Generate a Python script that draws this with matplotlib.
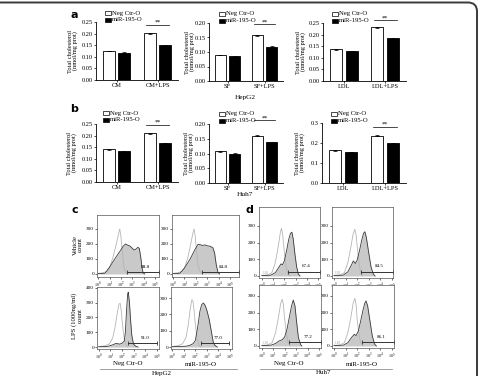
import numpy as np
import matplotlib
matplotlib.use("Agg")
import matplotlib.pyplot as plt
from matplotlib.patches import FancyBboxPatch, Rectangle

W, H = 479, 376
plt.rcParams["font.family"] = ["Liberation Serif", "DejaVu Serif"]
plt.rcParams["mathtext.fontset"] = "stix"

# ---- bar data (total cholesterol, nmol/mg prot) ----
hepg2_cats = [["CM", "CM+LPS"], ["SF", "SF+LPS"], ["LDL", "LDL+LPS"]]
hepg2_neg = [[0.125, 0.202], [0.090, 0.158], [0.136, 0.232]]
hepg2_mir = [[0.117, 0.150], [0.085, 0.118], [0.130, 0.184]]
hepg2_neg_err = [[0.002, 0.002], [0.001, 0.002], [0.001, 0.002]]
hepg2_mir_err = [[0.002, 0.002], [0.001, 0.002], [0.001, 0.002]]

huh7_cats = [["CM", "CM+LPS"], ["SF", "SF+LPS"], ["LDL", "LDL+LPS"]]
huh7_neg = [[0.142, 0.211], [0.107, 0.161], [0.163, 0.236]]
huh7_mir = [[0.132, 0.168], [0.099, 0.138], [0.155, 0.199]]
huh7_neg_err = [[0.002, 0.002], [0.002, 0.002], [0.002, 0.002]]
huh7_mir_err = [[0.002, 0.002], [0.002, 0.002], [0.002, 0.002]]

# ---- flow histograms (x = log10 fluorescence, y = count) ----
# c: HepG2
cv_neg_open_x = [0.0, 0.4, 0.8, 1.0, 1.3, 1.6, 1.8, 1.9, 2.0, 2.1, 2.2, 2.3, 2.45, 2.6]
cv_neg_open_y = [4, 8, 18, 40, 110, 200, 270, 300, 250, 170, 90, 35, 8, 0]
cv_neg_fill_x = [0.0, 0.6, 1.0, 1.5, 2.0, 2.2, 2.4, 2.6, 2.8, 3.0, 3.15, 3.3, 3.5, 3.62, 3.75, 3.85, 3.95, 4.1]
cv_neg_fill_y = [2, 5, 45, 105, 160, 185, 200, 192, 186, 172, 160, 165, 178, 170, 110, 45, 8, 0]
cv_mir_open_x = [0.0, 0.4, 0.8, 1.0, 1.3, 1.55, 1.75, 1.85, 1.95, 2.05, 2.15, 2.3, 2.45, 2.6]
cv_mir_open_y = [4, 8, 18, 40, 110, 200, 275, 300, 250, 160, 80, 30, 8, 0]
cv_mir_fill_x = [0.0, 0.6, 1.0, 1.5, 1.9, 2.2, 2.4, 2.6, 2.8, 3.0, 3.25, 3.5, 3.65, 3.8, 3.95, 4.1]
cv_mir_fill_y = [2, 5, 40, 100, 160, 198, 195, 190, 194, 188, 185, 175, 140, 60, 10, 0]

cl_neg_open_x = [0.0, 0.5, 0.9, 1.2, 1.4, 1.6, 1.75, 1.85, 1.95, 2.05, 2.2, 2.35, 2.5]
cl_neg_open_y = [3, 8, 20, 60, 130, 230, 290, 295, 240, 150, 60, 15, 0]
cl_neg_fill_x = [0.0, 0.8, 1.2, 1.5, 1.8, 2.0, 2.2, 2.3, 2.4, 2.5, 2.55, 2.65, 2.75, 2.85, 3.0, 3.2, 3.4]
cl_neg_fill_y = [2, 5, 15, 25, 20, 25, 40, 100, 250, 360, 370, 300, 180, 80, 20, 5, 0]
cl_mir_open_x = [0.0, 0.5, 0.9, 1.2, 1.4, 1.55, 1.7, 1.8, 1.9, 2.0, 2.15, 2.3, 2.45]
cl_mir_open_y = [3, 8, 20, 60, 140, 230, 290, 280, 220, 140, 55, 12, 0]
cl_mir_fill_x = [0.0, 1.2, 1.5, 1.8, 2.0, 2.2, 2.4, 2.55, 2.7, 2.85, 3.0, 3.2, 3.4, 3.55, 3.7, 3.9]
cl_mir_fill_y = [2, 5, 10, 20, 40, 120, 220, 260, 270, 255, 225, 170, 90, 30, 10, 0]

# d: Huh7
dv_neg_open_x = [0.0, 0.5, 0.9, 1.2, 1.45, 1.65, 1.75, 1.85, 2.0, 2.15, 2.3, 2.5]
dv_neg_open_y = [4, 6, 20, 80, 170, 260, 285, 250, 150, 60, 15, 0]
dv_neg_fill_x = [0.0, 0.8, 1.2, 1.5, 1.7, 1.85, 2.0, 2.2, 2.4, 2.55, 2.68, 2.8, 2.95, 3.1, 3.25, 3.4]
dv_neg_fill_y = [2, 5, 20, 50, 72, 68, 90, 150, 220, 255, 262, 220, 130, 55, 12, 0]
dv_mir_open_x = [0.0, 0.5, 0.9, 1.2, 1.45, 1.65, 1.8, 1.9, 2.05, 2.2, 2.35, 2.5]
dv_mir_open_y = [4, 6, 20, 80, 170, 250, 280, 250, 150, 60, 15, 0]
dv_mir_fill_x = [0.0, 0.8, 1.2, 1.5, 1.67, 1.85, 2.0, 2.2, 2.4, 2.55, 2.67, 2.8, 3.0, 3.2, 3.4, 3.55]
dv_mir_fill_y = [2, 5, 25, 65, 90, 75, 95, 150, 215, 255, 265, 230, 140, 55, 12, 0]

dl_neg_open_x = [0.0, 0.5, 0.9, 1.2, 1.45, 1.65, 1.78, 1.88, 2.0, 2.15, 2.3, 2.5]
dl_neg_open_y = [4, 6, 20, 80, 170, 255, 280, 250, 160, 70, 20, 0]
dl_neg_fill_x = [0.0, 0.8, 1.2, 1.5, 1.8, 2.0, 2.2, 2.4, 2.6, 2.75, 2.9, 3.05, 3.2, 3.4, 3.5]
dl_neg_fill_y = [2, 5, 15, 30, 38, 55, 100, 170, 240, 275, 240, 140, 50, 8, 0]
dl_mir_open_x = [0.0, 0.5, 0.9, 1.2, 1.45, 1.65, 1.8, 1.9, 2.0, 2.15, 2.3, 2.5]
dl_mir_open_y = [4, 6, 20, 80, 170, 255, 285, 250, 160, 70, 20, 0]
dl_mir_fill_x = [0.0, 0.8, 1.2, 1.5, 1.75, 1.9, 2.1, 2.3, 2.5, 2.65, 2.76, 2.9, 3.1, 3.3, 3.5, 3.65]
dl_mir_fill_y = [2, 5, 20, 50, 70, 62, 90, 150, 215, 255, 270, 240, 150, 60, 12, 0]

gate_pct = {"cv_neg": "88.8", "cv_mir": "84.8", "cl_neg": "91.0", "cl_mir": "77.0",
            "dv_neg": "67.4", "dv_mir": "84.5", "dl_neg": "77.2", "dl_mir": "86.1"}

fig = plt.figure(figsize=(W / 100, H / 100), dpi=100)


def add_px(x0, y0, x1, y1):
    return fig.add_axes([x0 / W, 1 - y1 / H, (x1 - x0) / W, (y1 - y0) / H])


def bar_panel(box, cats, neg, mir, neg_err, mir_err, ymax, step, fmt, sig_y):
    ax = add_px(*box)
    x = np.arange(len(cats))
    ax.bar(x - 0.19, neg, 0.29, color="white", edgecolor="black", linewidth=0.6,
           yerr=neg_err, capsize=1.2, error_kw=dict(elinewidth=0.5, capthick=0.5))
    ax.bar(x + 0.19, mir, 0.29, color="black", edgecolor="black", linewidth=0.6,
           yerr=mir_err, capsize=1.2, error_kw=dict(elinewidth=0.5, capthick=0.5))
    ax.set_xlim(-0.5, 1.5)
    ax.set_ylim(0, ymax)
    ticks = np.arange(0, ymax + 1e-9, step)
    ax.set_yticks(ticks)
    ax.set_yticklabels([fmt.format(t) for t in ticks])
    ax.set_xticks(x)
    ax.set_xticklabels(cats)
    ax.tick_params(labelsize=4.6, length=1.5, width=0.5, pad=1)
    for s in ["top", "right"]:
        ax.spines[s].set_visible(False)
    for s in ["left", "bottom"]:
        ax.spines[s].set_linewidth(0.6)
    ax.plot([0.72, 1.28], [sig_y, sig_y], color="black", lw=0.5, clip_on=False)
    ax.text(1.0, sig_y, "**", ha="center", va="bottom", fontsize=4.5)
    return ax


def flow_panel(box, xlim, ylim, yticks, ox, oy, fx, fy, gate, gate_y, pct, small=None):
    ax = add_px(*box)
    ax.plot(ox, oy, color="#b5b5b5", lw=0.6)
    ax.fill_between(fx, fy, color="#c9c9c9", lw=0)
    ax.plot(fx, fy, color="#3a3a3a", lw=0.6)
    ax.plot(gate, [gate_y, gate_y], color="#333333", lw=0.7, marker="|", ms=2.5, mew=0.6, clip_on=False)
    ax.text(gate[0] + (gate[1] - gate[0]) * 0.45, gate_y + (ylim[1] - ylim[0]) * 0.05, pct,
            fontsize=3.6, ha="left", va="bottom")
    if small:
        ax.text(0.05, 8, small, fontsize=2.6, color="#999999", ha="left", va="bottom")
    ax.set_xlim(*xlim)
    ax.set_ylim(*ylim)
    ax.set_xticks(range(6))
    ax.set_xticklabels([f"$10^{i}$" for i in range(6)])
    ax.set_yticks(yticks)
    ax.tick_params(axis="x", labelsize=3.2, length=1.2, width=0.4, pad=1.5)
    ax.tick_params(axis="y", labelsize=3.8, length=1.2, width=0.4, pad=1)
    for s in ax.spines.values():
        s.set_linewidth(0.5)
        s.set_color("#555555")
    return ax


# ---- panel a / b ----
bar_layout_a = [(96, 22, 178, 80, 0.25, 0.05, "{:.2f}", 0.238),
                (209, 23, 283, 81, 0.20, 0.05, "{:.2f}", 0.196),
                (323, 23, 406, 81, 0.25, 0.05, "{:.2f}", 0.262)]
bar_layout_b = [(96, 124, 178, 182, 0.25, 0.05, "{:.2f}", 0.246),
                (209, 124, 283, 183, 0.20, 0.05, "{:.2f}", 0.212),
                (322, 123, 406, 183, 0.30, 0.10, "{:.1f}", 0.280)]

for i, (x0, y0, x1, y1, ymax, step, fmt, sy) in enumerate(bar_layout_a):
    bar_panel((x0, y0, x1, y1), hepg2_cats[i], hepg2_neg[i], hepg2_mir[i],
              hepg2_neg_err[i], hepg2_mir_err[i], ymax, step, fmt, sy)
for i, (x0, y0, x1, y1, ymax, step, fmt, sy) in enumerate(bar_layout_b):
    bar_panel((x0, y0, x1, y1), huh7_cats[i], huh7_neg[i], huh7_mir[i],
              huh7_neg_err[i], huh7_mir_err[i], ymax, step, fmt, sy)

# ---- panel c / d ----
flow_panel((97, 215, 159, 277), (-0.1, 5.35), (-20, 393), [0, 100, 200, 300],
           cv_neg_open_x, cv_neg_open_y, cv_neg_fill_x, cv_neg_fill_y, (2.5, 5.35), 14, gate_pct["cv_neg"])
flow_panel((172, 215, 239, 277), (-0.1, 5.8), (-20, 393), [0, 100, 200, 300],
           cv_mir_open_x, cv_mir_open_y, cv_mir_fill_x, cv_mir_fill_y, (2.5, 5.8), 14, gate_pct["cv_mir"])
flow_panel((97, 287, 159, 349), (-0.15, 5.2), (-13, 405), [0, 100, 200, 300, 400],
           cl_neg_open_x, cl_neg_open_y, cl_neg_fill_x, cl_neg_fill_y, (2.5, 5.0), 25, gate_pct["cl_neg"])
flow_panel((171, 287, 232, 349), (-0.1, 5.17), (-12, 368), [0, 100, 200, 300],
           cl_mir_open_x, cl_mir_open_y, cl_mir_fill_x, cl_mir_fill_y, (2.5, 4.9), 25, gate_pct["cl_mir"])
flow_panel((259, 207, 320, 278), (-0.25, 5.18), (-12, 413), [0, 100, 200, 300],
           dv_neg_open_x, dv_neg_open_y, dv_neg_fill_x, dv_neg_fill_y, (2.3, 5.18), 25, gate_pct["dv_neg"], "1.10")
flow_panel((332, 207, 393, 278), (-0.17, 5.1), (-12, 413), [0, 100, 200, 300],
           dv_mir_open_x, dv_mir_open_y, dv_mir_fill_x, dv_mir_fill_y, (2.3, 5.1), 25, gate_pct["dv_mir"], "1.10")
flow_panel((259, 285, 321, 348), (-0.25, 5.18), (-12, 365), [0, 100, 200, 300],
           dl_neg_open_x, dl_neg_open_y, dl_neg_fill_x, dl_neg_fill_y, (2.4, 5.18), 25, gate_pct["dl_neg"], "1.10")
flow_panel((332, 285, 394, 348), (-0.17, 5.17), (-12, 365), [0, 100, 200, 300],
           dl_mir_open_x, dl_mir_open_y, dl_mir_fill_x, dl_mir_fill_y, (2.45, 5.17), 25, gate_pct["dl_mir"], "1.10")

# ---- overlay in pixel coordinates for labels ----
ov = fig.add_axes([0, 0, 1, 1])
ov.set_xlim(0, W)
ov.set_ylim(H, 0)
ov.axis("off")
ov.set_zorder(10)

ov.add_patch(FancyBboxPatch((-80, 2.5), 557, 480, boxstyle="round,pad=0,rounding_size=9",
                            fill=False, ec="#3a3a3a", lw=1.4))

for lbl, (px, py) in {"a": (74.5, 15), "b": (74.5, 109.5), "c": (74.5, 210), "d": (249, 210)}.items():
    ov.text(px, py, lbl, fontsize=8, fontweight="bold", family="DejaVu Sans", ha="center", va="center")

# legends
for lx, ly in [(105, 11), (219, 12), (332, 12), (103, 111), (219, 112), (331, 112)]:
    ov.add_patch(Rectangle((lx, ly), 6, 4, fc="white", ec="black", lw=0.5))
    ov.add_patch(Rectangle((lx, ly + 6.5), 6, 4, fc="black", ec="black", lw=0.5))
    ov.text(lx + 7, ly + 2, "Neg Ctr-O", fontsize=4.8, va="center", ha="left")
    ov.text(lx + 7, ly + 8.5, "miR-195-O", fontsize=4.8, va="center", ha="left")

ylab = "Total cholesterol\n(nmol/mg prot)"
for px, py in [(73, 51), (190, 52), (301, 52), (72, 153), (189, 153), (300, 153)]:
    ov.text(px, py, ylab, fontsize=4.6, rotation=90, ha="center", va="center", linespacing=1.0)

ov.text(245, 97, "HepG2", fontsize=5.2, ha="center", va="center")
ov.text(245, 194, "Huh7", fontsize=5.2, ha="center", va="center")

ov.text(78, 245, "Vehicle\ncount", fontsize=4.8, rotation=90, ha="center", va="center", linespacing=1.1)
ov.text(77, 316, "LPS (1000ng/ml)\ncount", fontsize=4.8, rotation=90, ha="center", va="center", linespacing=1.1)

for (px, txt) in [(128, "Neg Ctr-O"), (201, "miR-195-O"), (289, "Neg Ctr-O"), (362, "miR-195-O")]:
    ov.text(px, 364, txt, fontsize=5, ha="center", va="center")
ov.plot([100, 237], [368.5, 368.5], color="#777777", lw=0.5)
ov.plot([260, 392], [368.5, 368.5], color="#777777", lw=0.5)
ov.text(162, 373, "HepG2", fontsize=5, ha="center", va="center")
ov.text(324, 373, "Huh7", fontsize=5, ha="center", va="center")

fig.savefig("out.png", dpi=100)
